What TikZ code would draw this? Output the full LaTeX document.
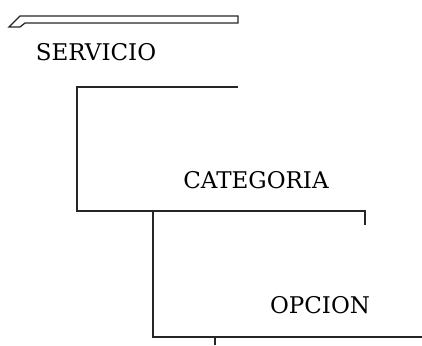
\documentclass[tikz,border=0pt]{standalone}
\usepackage{fontspec}
\setmainfont{DejaVu Serif}
\begin{document}
\begin{tikzpicture}[x=1pt,y=-1pt,
  label/.style={font=\fontsize{23}{26}\selectfont, text=black, inner sep=0pt, anchor=center},
  wire/.style={draw=black!85, line width=1.5pt}]
\useasboundingbox (0,0) rectangle (422,345);
% slanted header bar
\draw[wire, line width=1.3pt, line join=miter] (20,16) -- (238,16) -- (238,23) -- (25,23) -- (20,27) -- (9,27) -- cycle;
% level labels
\node[label] (servicio) at (96,52) {SERVICIO};
\node[label] (categoria) at (256,180) {CATEGORIA};
\node[label] (opcion) at (320,305) {OPCION};
% bracket lines
\coordinate (a1) at (238,87);
\coordinate (a2) at (77,87);
\coordinate (a3) at (77,211);
\coordinate (a4) at (365,211);
\coordinate (a5) at (365,225);
\coordinate (b1) at (153,211);
\coordinate (b2) at (153,337);
\coordinate (b3) at (422,337);
\coordinate (c1) at (215,337);
\coordinate (c2) at (215,345);
\draw[wire] (a1) -- (a2) -- (a3) -- (a4) -- (a5);
\draw[wire] (b1) -- (b2) -- (b3);
\draw[wire] (c1) -- (c2);
\end{tikzpicture}
\end{document}
